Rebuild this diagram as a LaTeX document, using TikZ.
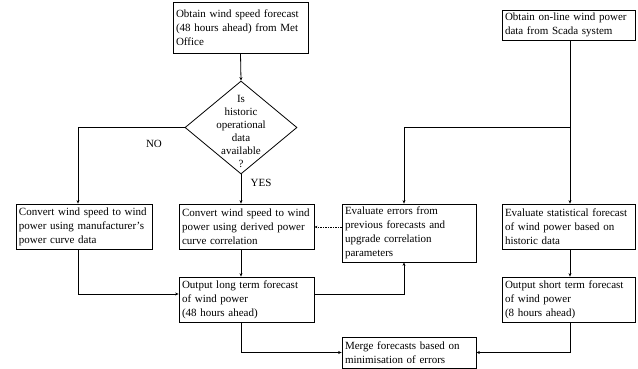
\documentclass[tikz,border=0pt]{standalone}
\usepackage{fontspec}
\setmainfont{Liberation Serif}
\usetikzlibrary{shapes.geometric,arrows.meta}
\begin{document}
\begin{tikzpicture}[x=1pt,y=-1pt,
  txt/.style={font=\fontsize{11}{14}\selectfont},
  box/.style={txt,draw,line width=0.8pt,align=left,inner xsep=3pt,inner ysep=1pt},
  arr/.style={line width=0.8pt,-{Stealth[length=3.5pt,width=3pt]}},
  ln/.style={line width=0.8pt}]
\useasboundingbox (0,0) rectangle (638,369);
\node[box,minimum width=135pt,minimum height=51pt,text width=129pt] (met) at (240.5,27.5) {Obtain wind speed forecast\\(48 hours ahead) from Met\\Office};
\node[diamond,draw,line width=0.8pt,minimum width=112pt,minimum height=93pt,inner sep=0pt] (dec) at (241,127.5) {};
\node[txt,align=center,font=\fontsize{11}{13}\selectfont] (dectxt) at (241,131) {Is\\historic\\operational\\data\\available\\?};
\node[txt] (no) at (154,144) {NO};
\node[txt] (yes) at (261,183) {YES};
\node[box,minimum width=136pt,minimum height=45pt,text width=130pt] (man) at (84,226.5) {\mbox{Convert wind speed to wind}\\\mbox{power using manufacturer’s}\\power curve data};
\node[box,minimum width=135pt,minimum height=45pt,text width=129pt] (der) at (246.5,226.5) {\mbox{Convert wind speed to wind}\\\mbox{power using derived power}\\curve correlation};
\node[box,minimum width=135pt,minimum height=45pt,text width=129pt] (lt) at (246.5,299.5) {Output long term forecast\\of wind power\\(48 hours ahead)};
\node[box,minimum width=134pt,minimum height=58pt,text width=128pt] (err) at (409,233) {Evaluate errors from\\previous forecasts and\\upgrade correlation\\parameters};
\node[box,minimum width=133pt,minimum height=30pt,text width=127pt] (scada) at (568.5,25) {Obtain on-line wind power\\data from Scada system};
\node[box,minimum width=133pt,minimum height=45pt,text width=127pt] (stat) at (568.5,226.5) {\mbox{Evaluate statistical forecast}\\of wind power based on\\historic data};
\node[box,minimum width=133pt,minimum height=45pt,text width=127pt] (st) at (568.5,299.5) {Output short term forecast\\of wind power\\(8 hours ahead)};
\node[box,minimum width=134pt,minimum height=31pt,text width=128pt] (merge) at (409,352.5) {Merge forecasts based on\\minimisation of errors};
% connectors
\draw[arr] (met.south) -- (dec.north);
\draw[arr] (dec.west) -| ([xshift=-6pt]man.north);
\draw[arr] (dec.south) -- (dec.south |- der.north);
\draw[arr] ([xshift=-5.5pt]der.south) -- ([xshift=-5.5pt]lt.north);
\draw[arr] ([xshift=-6pt]man.south) |- ([yshift=5.5pt]lt.west);
\draw[arr] ([yshift=5.5pt]lt.east) -| ([xshift=-5pt]err.south);
\draw[arr] ([xshift=1.5pt]scada.south) -- ([xshift=1.5pt]stat.north);
\coordinate (br) at ([xshift=1.5pt]scada.south |- dec.west);
\draw[arr] (br) -| ([xshift=-5pt]err.north);
\draw[arr] ([xshift=1.5pt]stat.south) -- ([xshift=1.5pt]st.north);
\draw[line width=0.5pt,dash pattern=on 1.5pt off 1pt,-{Stealth[length=3pt,width=2.5pt]}] ([yshift=6pt]err.west) -- ([yshift=6pt]err.west -| der.east);
\draw[arr] ([xshift=-5.5pt]lt.south) |- (merge.west);
\draw[arr] ([xshift=1.5pt]st.south) |- (merge.east);
\end{tikzpicture}
\end{document}
